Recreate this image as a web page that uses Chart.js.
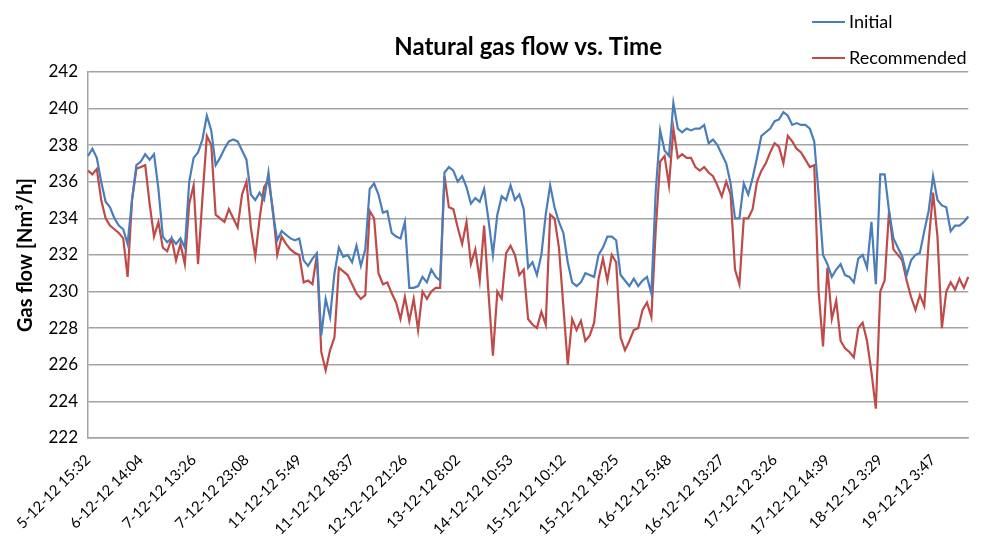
<!DOCTYPE html>
<html>
<head>
<meta charset="utf-8">
<title>Natural gas flow vs. Time</title>
<script src="https://cdn.jsdelivr.net/npm/chart.js@4.4.1/dist/chart.umd.min.js"></script>
<style>
body{margin:0;background:#fff}
#wrap{width:986px;height:536px}
</style>
</head>
<body>
<div id="wrap"><canvas id="chart" width="986" height="536"></canvas></div>
<script>

// tick labels shown every 12 samples along the x axis
const tickLabels = ["5-12-12 15:32","6-12-12 14:04","7-12-12 13:26","7-12-12 23:08","11-12-12 5:49","11-12-12 18:37","12-12-12 21:26","13-12-12 8:02","14-12-12 10:53","15-12-12 10:12","15-12-12 18:25","16-12-12 5:48","16-12-12 13:27","17-12-12 3:26","17-12-12 14:39","18-12-12 3:29","19-12-12 3:47"]
const labelStep = 12

const initial = [
237.4,237.8,237.3,236.0,234.9,234.6,234.0,233.6,233.4,232.6,
235.0,236.9,237.1,237.5,237.2,237.5,235.6,233.0,232.7,232.9,
232.6,232.9,232.4,236.0,237.3,237.6,238.3,239.6,238.8,236.9,
237.3,237.8,238.2,238.3,238.2,237.7,237.2,235.3,235.0,235.4,
235.0,236.5,234.3,232.8,233.3,233.1,232.9,232.8,232.9,231.7,
231.4,231.8,232.1,227.6,229.6,228.6,231.0,232.4,231.9,232.0,
231.6,232.5,231.4,232.3,235.6,235.9,235.3,234.3,234.4,233.2,
233.0,232.9,233.8,230.2,230.2,230.3,230.8,230.5,231.2,230.8,
230.6,236.5,236.8,236.6,236.0,236.3,235.7,234.8,235.1,234.9,
235.6,233.9,232.0,234.2,235.2,235.0,235.8,235.0,235.3,234.5,
231.3,231.6,230.9,232.0,234.2,235.8,234.6,233.8,233.2,231.6,
230.5,230.3,230.5,231.0,230.9,230.8,232.0,232.4,233.0,233.0,
232.8,230.9,230.6,230.3,230.7,230.3,230.6,230.8,229.9,235.5,
238.8,237.7,237.4,240.3,238.9,238.7,238.9,238.8,238.9,238.9,
239.1,238.1,238.3,238.0,237.5,237.0,235.9,234.0,234.0,235.9,
235.3,236.2,237.3,238.5,238.7,238.9,239.3,239.4,239.8,239.6,
239.1,239.2,239.1,239.1,238.9,238.2,235.3,232.0,231.5,230.8,
231.2,231.5,230.9,230.8,230.5,231.8,232.0,231.3,233.8,230.4,
236.4,236.4,234.4,232.9,232.4,231.9,230.9,231.7,232.0,232.1,
233.3,234.4,236.3,235.0,234.7,234.6,233.3,233.6,233.6,233.8,234.1
]

const recommended = [
236.6,236.4,236.7,235.0,234.0,233.6,233.4,233.2,232.9,230.8,
235.0,236.7,236.8,236.9,234.8,233.0,233.8,232.4,232.2,232.9,
231.7,232.6,231.5,234.8,235.8,231.5,235.1,238.5,238.0,234.2,
234.0,233.8,234.5,234.0,233.5,235.3,236.0,233.5,231.9,234.0,
235.7,236.1,234.5,232.0,233.0,232.6,232.3,232.1,232.0,230.5,
230.6,230.4,232.0,226.7,225.7,226.8,227.5,231.3,231.1,230.9,
230.4,229.9,229.6,229.8,234.4,234.0,231.0,230.4,230.5,229.9,
229.4,228.5,229.7,228.4,229.6,227.9,230.0,229.6,230.0,230.2,
230.2,236.3,234.6,234.5,233.5,232.6,233.8,231.5,232.3,230.6,
233.6,229.9,226.5,230.0,229.6,232.1,232.5,232.0,230.9,231.2,
228.5,228.2,228.0,228.9,228.2,234.2,234.0,232.4,229.2,226.0,
228.5,227.9,228.4,227.3,227.6,228.3,230.7,231.8,230.6,232.0,
231.6,227.5,226.8,227.3,227.9,228.0,229.0,229.4,228.6,233.4,
237.1,237.4,235.8,238.9,237.3,237.5,237.3,237.3,236.8,236.6,
236.8,236.5,236.3,235.8,235.2,236.0,235.3,231.2,230.4,234.0,
234.0,234.5,236.0,236.6,237.0,237.6,238.1,237.9,237.0,238.5,
238.2,237.8,237.6,237.2,236.8,236.9,230.0,227.0,231.3,228.5,
229.5,227.3,226.9,226.7,226.4,228.0,228.3,227.3,225.6,223.6,
230.0,230.6,234.4,232.3,232.0,231.7,230.6,229.7,229.0,229.8,
229.2,232.7,235.4,233.0,228.0,230.0,230.5,230.1,230.7,230.2,230.8
]

const categories = initial.map((v, i) => i % labelStep === 0 ? tickLabels[i / labelStep] : "")

const FONT = "Lato"
const GRID = "#a3a3a3"

// legend stacked in the top right corner, like the original
const cornerLegend = {
id: "cornerLegend",
afterDraw(chart){
const ctx = chart.ctx
ctx.save()
ctx.font = "18px " + FONT
ctx.textBaseline = "middle"
chart.data.datasets.forEach((ds, k) => {
const y = 22 + k * 36
ctx.strokeStyle = ds.borderColor
ctx.lineWidth = 2
ctx.beginPath()
ctx.moveTo(812, y)
ctx.lineTo(845, y)
ctx.stroke()
ctx.fillStyle = "#000"
ctx.fillText(ds.label, 849, y)
})
ctx.restore()
}
}

new Chart(document.getElementById("chart"), {
type: "line",
data: {
labels: categories,
datasets: [{
label: "Initial",
data: initial,
borderColor: "#4a7ebb",
borderWidth: 2.2,
pointRadius: 0,
tension: 0
},{
label: "Recommended",
data: recommended,
borderColor: "#be4b48",
borderWidth: 2.2,
pointRadius: 0,
tension: 0
}]
},
options: {
responsive: false,
animation: false,
layout: {padding: {top: 0, right: 14, bottom: 0, left: 0}},
plugins: {
legend: {display: false},
tooltip: {enabled: false},
title: {
display: true,
text: "Natural gas flow vs. Time",
fullSize: false,
color: "#000",
font: {family: FONT, size: 24, weight: "bold"},
padding: {top: 33, bottom: 10}
}
},
scales: {
x: {
grid: {display: false},
border: {display: true, color: GRID, width: 1.5},
ticks: {
autoSkip: false,
minRotation: 45,
maxRotation: 45,
padding: 5,
color: "#000",
font: {family: FONT, size: 15}
},
afterFit(scale){ scale.height = 98 }
},
y: {
min: 222,
max: 242,
grid: {color: GRID, lineWidth: 1.5, drawTicks: false},
border: {display: true, color: GRID, width: 1.5},
ticks: {
stepSize: 2,
padding: 10,
color: "#000",
font: {family: FONT, size: 17}
},
title: {
display: true,
text: "Gas flow [Nm³/h]",
color: "#000",
font: {family: FONT, size: 20, weight: "bold"},
padding: {top: 14, bottom: 0}
},
afterFit(scale){ scale.width = 88 }
}
}
},
plugins: [cornerLegend]
})

</script>
</body>
</html>
